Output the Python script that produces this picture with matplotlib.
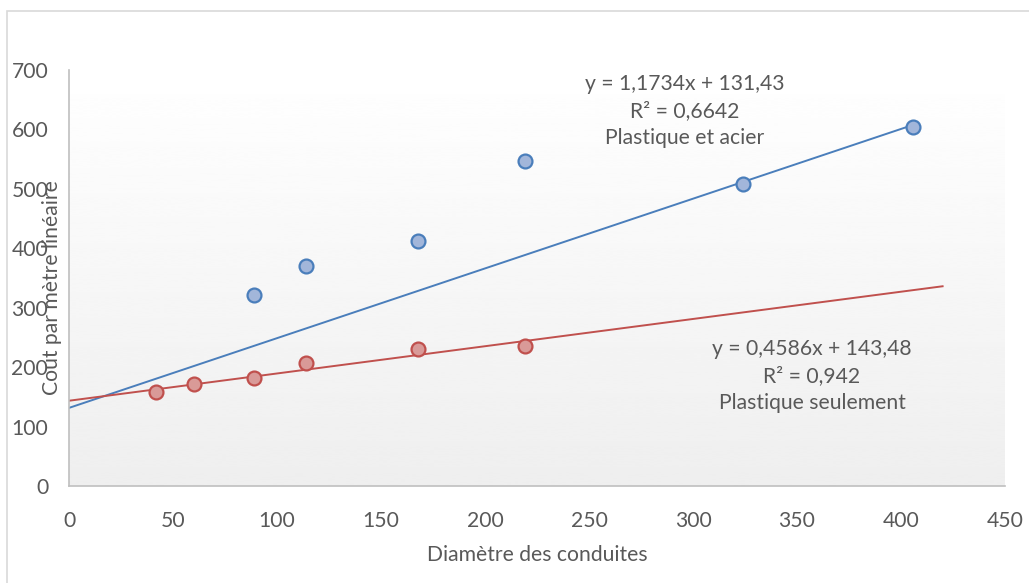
import numpy as np
import matplotlib.pyplot as plt
from matplotlib.patches import Rectangle

# données
diam_acier = [89, 114, 168, 219, 324, 406]
cout_acier = [321, 370, 412, 547, 508, 604]
diam_plast = [42, 60, 89, 114, 168, 219]
cout_plast = [158, 172, 182, 207, 230, 236]

# courbes de tendance (valeurs affichées)
pente_acier, ordo_acier = 1.1734, 131.43
pente_plast, ordo_plast = 0.4586, 143.48
x_fin_acier = 406
x_fin_plast = 420

lbl_acier = ["y = 1,1734x + 131,43", "R² = 0,6642", "Plastique et acier"]
lbl_plast = ["y = 0,4586x + 143,48", "R² = 0,942", "Plastique seulement"]

xticks = np.arange(0, 451, 50)
yticks = np.arange(0, 701, 100)

gris = "#595959"
bleu, bleu_fond = "#4A7EBB", "#A2B6DA"
rouge, rouge_fond = "#C0504D", "#D99A98"
fs = 15.2

plt.rcParams['font.family'] = ['Lato', 'DejaVu Sans']

fig = plt.figure(figsize=(10.29, 5.83), dpi=100)
fig.patches.append(Rectangle((7/1029, -0.1), 1.2, 1 - 11/583 + 0.1, transform=fig.transFigure,
                             fill=False, edgecolor="#D9D9D9", linewidth=1.2))
ax = fig.add_axes([69/1029, 97/583, 936/1029, 416/583])

# fond dégradé
grad = np.linspace(1.0, 0.935, 256).reshape(-1, 1)
ax.imshow(grad, cmap="gray", vmin=0, vmax=1, aspect="auto", extent=[0, 1, 0, 1],
          transform=ax.transAxes, zorder=0, interpolation="bicubic")

xa = np.array([0, x_fin_acier])
xp = np.array([0, x_fin_plast])
ax.plot(xa, pente_acier * xa + ordo_acier, color=bleu, lw=1.4, zorder=2)
ax.plot(xp, pente_plast * xp + ordo_plast, color=rouge, lw=1.4, zorder=2)

ax.plot(diam_acier, cout_acier, "o", ms=10, mfc=bleu_fond, mec=bleu, mew=1.6, zorder=3)
ax.plot(diam_plast, cout_plast, "o", ms=10, mfc=rouge_fond, mec=rouge, mew=1.6, zorder=3)

ax.set_xlim(0, 450)
ax.set_ylim(0, 700)
ax.set_xticks(xticks)
ax.set_yticks(yticks)
ax.tick_params(length=0, labelsize=fs, labelcolor=gris)
ax.tick_params(axis="y", pad=15)
ax.tick_params(axis="x", pad=18)
for s in ["top", "right"]:
    ax.spines[s].set_visible(False)
for s in ["left", "bottom"]:
    ax.spines[s].set_color("#BFBFBF")
    ax.spines[s].set_linewidth(1.2)

ax.set_xlabel("Diamètre des conduites", fontsize=fs, color=gris, labelpad=10)
fig.text(52/1029, 1 - 288/583, "Cout par mètre linéaire", rotation=90, fontsize=fs,
         color=gris, ha="center", va="center")

fig.text(685/1029, 1 - 111/583, "\n".join(lbl_acier), fontsize=fs, color=gris,
         ha="center", va="center", linespacing=1.45)
fig.text(812/1029, 1 - 376/583, "\n".join(lbl_plast), fontsize=fs, color=gris,
         ha="center", va="center", linespacing=1.45)

fig.savefig("out.png", dpi=100)
